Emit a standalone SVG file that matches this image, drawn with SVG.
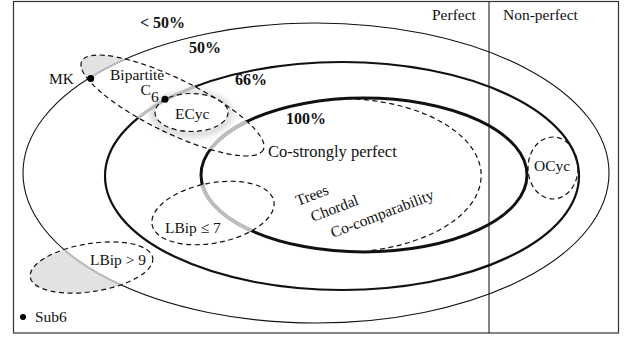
<svg xmlns="http://www.w3.org/2000/svg" width="628" height="339" viewBox="0 0 628 339">
<style>
text{font-family:"Liberation Serif","Times New Roman",serif;font-size:15.5px;fill:#111}
.b{font-weight:bold;font-size:16px}
.dash{fill:none;stroke:#111;stroke-width:1.2;stroke-dasharray:5 3.5}
.gr{fill:none;stroke:#bdbdbd}
</style>
<defs>
<clipPath id="cBip"><ellipse cx="172.5" cy="105.5" rx="101" ry="27" transform="rotate(26 172.5 105.5)"/></clipPath>
<clipPath id="cL7"><ellipse cx="213" cy="213" rx="62" ry="30" transform="rotate(-11 213 213)"/></clipPath>
<clipPath id="cL9"><ellipse cx="91.5" cy="267.5" rx="62" ry="24" transform="rotate(-9 91.5 267.5)"/></clipPath>
<filter id="blur" x="-30%" y="-60%" width="160%" height="220%"><feGaussianBlur stdDeviation="3"/></filter>
</defs>
<rect width="628" height="339" fill="#fff"/>
<g id="shading">
<ellipse cx="172.5" cy="105.5" rx="101" ry="27" transform="rotate(26 172.5 105.5)" fill="#e2e2e2"/>
<ellipse cx="91.5" cy="267.5" rx="62" ry="24" transform="rotate(-9 91.5 267.5)" fill="#e2e2e2"/>
<ellipse cx="316" cy="173" rx="293" ry="150" fill="#fff"/>
</g>
<g id="frame" fill="none" stroke="#333" stroke-width="1.2">
<rect x="13.5" y="1.5" width="605" height="331.5"/>
<line x1="489" y1="1.5" x2="489" y2="333"/>
<text x="432" y="20" stroke="none">Perfect</text>
<text x="503" y="20" stroke="none">Non-perfect</text>
</g>
<g id="glow"><ellipse cx="191.5" cy="114" rx="38" ry="20" fill="none" stroke="#d0d0d0" stroke-width="6" filter="url(#blur)"/><ellipse cx="191.5" cy="112.5" rx="36.5" ry="19" fill="#fff"/></g>
<g id="level-50">
<ellipse cx="316" cy="173" rx="293" ry="150" fill="none" stroke="#111" stroke-width="1.1"/>
<g clip-path="url(#cBip)"><ellipse class="gr" cx="316" cy="173" rx="293" ry="150" stroke-width="1.8"/></g>
<g clip-path="url(#cL9)"><ellipse class="gr" cx="316" cy="173" rx="293" ry="150" stroke-width="1.8"/></g>
<text class="b" x="140" y="28">&lt; 50%</text>
<text class="b" x="189" y="53">50%</text>
</g>
<g id="level-66">
<ellipse cx="342" cy="176" rx="237" ry="114" fill="none" stroke="#111" stroke-width="2.2"/>
<g clip-path="url(#cBip)"><ellipse class="gr" cx="342" cy="176" rx="237" ry="114" stroke-width="3"/></g>
<text class="b" x="235" y="85">66%</text>
</g>
<g id="level-100">
<ellipse cx="364" cy="175" rx="163" ry="77" fill="none" stroke="#111" stroke-width="3"/>
<g clip-path="url(#cBip)"><ellipse class="gr" cx="364" cy="175" rx="163" ry="77" stroke-width="3.8"/></g>
<g clip-path="url(#cL7)"><ellipse class="gr" cx="364" cy="175" rx="163" ry="77" stroke-width="3.8"/></g>
<text class="b" x="286" y="124">100%</text>
</g>
<g id="co-strongly-perfect">
<path class="dash" d="M 330 98.6 A 142 77 0 0 1 370 250.6"/>
<text x="268" y="157" style="font-size:16.5px">Co-strongly perfect</text>
</g>
<g id="bipartite">
<ellipse class="dash" cx="172.5" cy="105.5" rx="101" ry="27" transform="rotate(26 172.5 105.5)"/>
<text x="110" y="79.5">Bipartite</text>
</g>
<g id="ecyc">
<ellipse class="dash" cx="191.5" cy="112.5" rx="36.5" ry="19"/>
<text x="175" y="119">ECyc</text>
</g>
<g id="c6">
<circle cx="165" cy="99.3" r="3.5" fill="#000"/>
<text x="140.5" y="94.5">C</text><text x="151" y="102">6</text>
</g>
<g id="mk">
<circle cx="90.7" cy="78.5" r="3.5" fill="#000"/>
<text x="49" y="83.5">MK</text>
</g>
<g id="lbip7">
<ellipse class="dash" cx="213" cy="213" rx="62" ry="30" transform="rotate(-11 213 213)"/>
<text x="165" y="233">LBip ≤ 7</text>
</g>
<g id="lbip9">
<ellipse class="dash" cx="91.5" cy="267.5" rx="62" ry="24" transform="rotate(-9 91.5 267.5)"/>
<text x="90" y="265">LBip &gt; 9</text>
</g>
<g id="ocyc">
<ellipse class="dash" cx="553" cy="168" rx="25" ry="31"/>
<text x="534" y="171">OCyc</text>
</g>
<g id="classes">
<text transform="translate(298 206) rotate(-21)">Trees</text>
<text transform="translate(313 222) rotate(-21)">Chordal</text>
<text transform="translate(333 238) rotate(-21)">Co-comparability</text>
</g>
<g id="sub6">
<circle cx="23" cy="317" r="3" fill="#000"/>
<text x="35" y="322">Sub6</text>
</g>
<g id="connectors"/>
</svg>
